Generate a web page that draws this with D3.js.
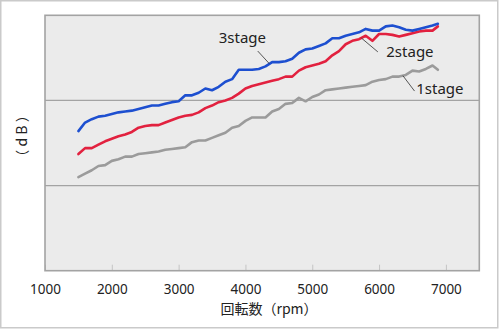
<!DOCTYPE html>
<html>
<head>
<meta charset="utf-8">
<script src="https://cdn.jsdelivr.net/npm/d3@7/dist/d3.min.js"></script>
<style>
  html, body { margin: 0; padding: 0; background: #fff; }
  svg { display: block; }
  text { font-family: "Noto Sans", "Noto Sans CJK JP", sans-serif; fill: #222; }
</style>
</head>
<body>
<script>
// Engine speed (rpm) at which each stage was measured
const rpm = [1500,1600,1700,1800,1900,2000,2100,2200,2300,2400,2500,2600,2700,2800,2900,
  3000,3100,3200,3300,3400,3500,3600,3700,3800,3900,4000,4100,4200,4300,4400,4500,4600,
  4700,4800,4900,5000,5100,5200,5300,5400,5500,5600,5700,5800,5900,6000,6100,6200,6300,
  6400,6500,6600,6700,6800,6880];

// Sound level (dB) per stage
const stage3 = [76.4,77.4,77.8,78.1,78.2,78.4,78.6,78.7,78.8,79.0,79.2,79.4,79.4,79.6,79.8,
  79.9,80.6,80.6,80.9,81.4,81.2,81.6,82.2,82.5,83.6,83.6,83.6,83.7,84.0,84.5,84.5,84.6,
  84.9,85.6,86.0,86.1,86.4,86.7,87.3,87.3,87.6,87.8,88.0,88.4,88.2,88.2,88.7,88.8,88.6,
  88.3,88.2,88.4,88.6,88.8,89.0];
const stage2 = [73.7,74.4,74.4,74.8,75.2,75.5,75.8,76.0,76.3,76.8,77.0,77.1,77.1,77.4,77.7,
  78.0,78.2,78.3,78.6,79.1,79.4,79.8,80.0,80.3,80.8,81.4,81.7,81.9,82.1,82.3,82.5,82.8,
  82.8,83.5,83.9,84.1,84.3,84.6,85.3,85.8,86.6,87.0,87.2,87.6,87.0,87.8,87.8,87.7,87.5,
  87.7,87.9,88.1,88.2,88.2,88.7];
const stage1 = [71.0,71.4,71.8,72.3,72.4,72.9,73.1,73.4,73.4,73.7,73.8,73.9,74.0,74.2,74.3,
  74.4,74.5,75.1,75.3,75.3,75.6,75.9,76.2,76.8,77.0,77.6,78.0,78.0,78.0,78.7,79.0,79.6,
  79.7,80.3,79.9,80.4,80.7,81.2,81.3,81.4,81.5,81.6,81.7,81.8,82.2,82.4,82.5,82.8,82.8,
  83.0,83.5,83.4,83.7,84.1,83.6];

const xTicks = [1000,2000,3000,4000,5000,6000,7000];
const yGrid = [70, 80];

const series = [
  { name: "1stage", values: stage1, color: "#9b9b9b" },
  { name: "2stage", values: stage2, color: "#e2213f" },
  { name: "3stage", values: stage3, color: "#1d4fd0" }
];

// Callout labels: leader starts on the curve at `at` rpm, ends at `from`;
// text baseline-left sits at `text` (rpm, dB)
const labels = [
  { name: "3stage", at: 4360, from: [4184, 85.8], text: [3600, 86.8] },
  { name: "2stage", at: 5734, from: [5982, 85.7], text: [6108, 85.1] },
  { name: "1stage", at: 6356, from: [6531, 81.1], text: [6556, 80.7] }
];

const W = 500, H = 329;
const plot = { left: 45, top: 15.3, right: 479.3, bottom: 270.7 };

const x = d3.scaleLinear().domain([1000, 7500]).range([plot.left, plot.right]);
const y = d3.scaleLinear().domain([60, 90]).range([plot.bottom, plot.top]);

const svg = d3.select("body").append("svg").attr("width", W).attr("height", H);

// outer frame
svg.append("rect").attr("x", 0.75).attr("y", 0.75).attr("width", 497).attr("height", 327)
  .attr("fill", "#fff").attr("stroke", "#cacaca").attr("stroke-width", 1.5);

// plot background
svg.append("rect")
  .attr("x", plot.left).attr("y", plot.top)
  .attr("width", plot.right - plot.left).attr("height", plot.bottom - plot.top)
  .attr("fill", "#ebebeb");

// horizontal grid
svg.append("g").selectAll("line").data(yGrid).join("line")
  .attr("x1", plot.left).attr("x2", plot.right)
  .attr("y1", d => y(d)).attr("y2", d => y(d))
  .attr("stroke", "#a3a3a3").attr("stroke-width", 1.3);

// x axis with inward ticks
const xAxis = d3.axisBottom(x).tickValues(xTicks).tickSize(-6).tickPadding(14)
  .tickFormat(d3.format("d"));
const gx = svg.append("g").attr("transform", `translate(0,${plot.bottom})`).call(xAxis);
gx.select(".domain").remove();
gx.selectAll(".tick line").attr("stroke", "#c4c4c4").attr("stroke-width", 1);
gx.selectAll(".tick text").attr("font-size", 13.5).attr("fill", "#222")
  .style("font-family", "'Noto Sans', sans-serif");

// plot border
svg.append("rect")
  .attr("x", plot.left).attr("y", plot.top)
  .attr("width", plot.right - plot.left).attr("height", plot.bottom - plot.top)
  .attr("fill", "none").attr("stroke", "#a3a3a3").attr("stroke-width", 1.6);

// series lines
const line = d3.line().x((d, i) => x(rpm[i])).y(d => y(d)).curve(d3.curveLinear);
svg.append("g").selectAll("path").data(series).join("path")
  .attr("d", d => line(d.values))
  .attr("fill", "none")
  .attr("stroke", d => d.color)
  .attr("stroke-width", 2.6)
  .attr("stroke-linejoin", "round")
  .attr("stroke-linecap", "round");

// callouts
const byName = Object.fromEntries(series.map(s => [s.name, s]));
const valueAt = (s, r) => {
  const i = d3.bisectLeft(rpm, r);
  if (rpm[i] === r) return s.values[i];
  const t = (r - rpm[i - 1]) / (rpm[i] - rpm[i - 1]);
  return s.values[i - 1] + t * (s.values[i] - s.values[i - 1]);
};
const cg = svg.append("g");
labels.forEach(l => {
  const s = byName[l.name];
  cg.append("line")
    .attr("x1", x(l.at)).attr("y1", y(valueAt(s, l.at)))
    .attr("x2", x(l.from[0])).attr("y2", y(l.from[1]))
    .attr("stroke", "#444").attr("stroke-width", 0.9);
  cg.append("text")
    .attr("x", x(l.text[0])).attr("y", y(l.text[1]))
    .attr("font-size", 15)
    .text(l.name);
});

// axis titles
svg.append("text")
  .attr("x", 269).attr("y", 314)
  .attr("text-anchor", "middle").attr("font-size", 14)
  .style("font-family", "'Noto Sans CJK JP', sans-serif")
  .text("回転数（rpm）");

svg.append("text")
  .attr("transform", "translate(27,136) rotate(-90)")
  .attr("text-anchor", "middle").attr("font-size", 14)
  .style("font-family", "'Noto Sans CJK JP', sans-serif")
  .text("（ d B ）");
</script>
</body>
</html>
